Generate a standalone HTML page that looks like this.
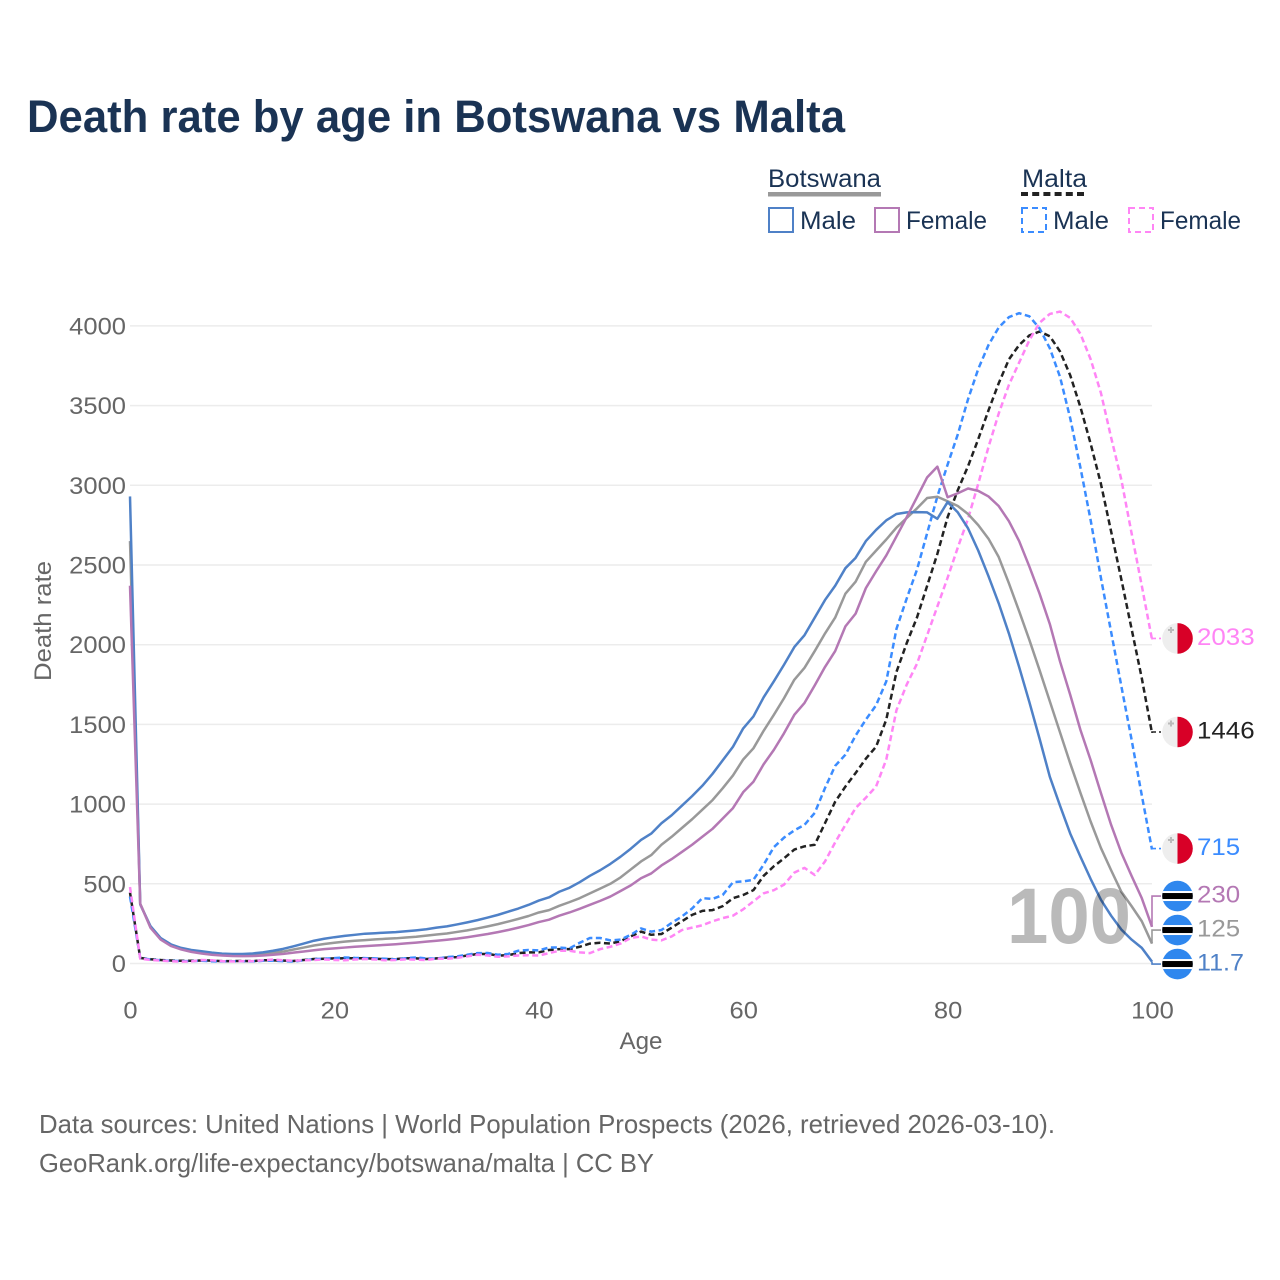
<!DOCTYPE html>
<html lang="en">
<head>
<meta charset="utf-8">
<title>Death rate by age in Botswana vs Malta</title>
<style>
html,body{margin:0;padding:0;background:#fff;}
svg{display:block;}
text{font-family:"Liberation Sans",sans-serif;}
</style>
</head>
<body>
<svg id="chart" xmlns="http://www.w3.org/2000/svg" width="1280" height="1280" viewBox="0 0 1280 1280">
  <defs><clipPath id="flag-clip"><circle cx="0" cy="0" r="15.3"></circle></clipPath></defs>
  <rect x="0" y="0" width="1280" height="1280" fill="#fff"></rect>
  <text x="27" y="132" font-size="45" font-weight="700" fill="#1a3354" textLength="818" lengthAdjust="spacingAndGlyphs">Death rate by age in Botswana vs Malta</text>

  <g>
    <text x="768" y="187" font-size="25" fill="#1a3354" textLength="113" lengthAdjust="spacingAndGlyphs">Botswana</text>
    <rect x="768" y="192" width="113" height="4.5" fill="#999"></rect>
    <text x="1022" y="187" font-size="25" fill="#1a3354" textLength="65" lengthAdjust="spacingAndGlyphs">Malta</text>
    <line x1="1021" y1="194" x2="1087" y2="194" stroke="#222" stroke-width="4" stroke-dasharray="7 4.2"></line>
    <rect x="769" y="208" width="24" height="24" fill="none" stroke="#4f81c7" stroke-width="2"></rect>
    <text x="800" y="229" font-size="25" fill="#1a3354" textLength="56" lengthAdjust="spacingAndGlyphs">Male</text>
    <rect x="875" y="208" width="24" height="24" fill="none" stroke="#b478b4" stroke-width="2"></rect>
    <text x="906" y="229" font-size="25" fill="#1a3354" textLength="81" lengthAdjust="spacingAndGlyphs">Female</text>
    <rect x="1022" y="208" width="24" height="24" fill="none" stroke="#3b8cff" stroke-width="2" stroke-dasharray="6 4"></rect>
    <text x="1053" y="229" font-size="25" fill="#1a3354" textLength="56" lengthAdjust="spacingAndGlyphs">Male</text>
    <rect x="1129" y="208" width="24" height="24" fill="none" stroke="#ff85f5" stroke-width="2" stroke-dasharray="6 4"></rect>
    <text x="1160" y="229" font-size="25" fill="#1a3354" textLength="81" lengthAdjust="spacingAndGlyphs">Female</text>
  </g>

  <g id="grid"></g>
  <g id="yticks"></g>
  <g id="xticks"></g>
  <text transform="translate(51,621) rotate(-90)" text-anchor="middle" font-size="24.5" fill="#666" textLength="120" lengthAdjust="spacingAndGlyphs">Death rate</text>
  <text x="641" y="1049" text-anchor="middle" font-size="24.5" fill="#666" textLength="43" lengthAdjust="spacingAndGlyphs">Age</text>

  <g id="series" fill="none" stroke-linejoin="round"></g>
  <text x="1007" y="943" font-size="79" font-weight="700" fill="rgba(0,0,0,0.27)" textLength="124" lengthAdjust="spacingAndGlyphs">100</text>
  <g id="endlabels"></g>

  <text x="39" y="1133" font-size="26" fill="#666" textLength="1016" lengthAdjust="spacingAndGlyphs">Data sources: United Nations | World Population Prospects (2026, retrieved 2026-03-10).</text>
  <text x="39" y="1172" font-size="26" fill="#666" textLength="615" lengthAdjust="spacingAndGlyphs">GeoRank.org/life-expectancy/botswana/malta | CC BY</text>
</svg>
<script>
const yTickValues = [0, 500, 1000, 1500, 2000, 2500, 3000, 3500, 4000];
const xTickValues = [0, 20, 40, 60, 80, 100];

const botswanaMale = [
  2930,370,235,160,120,98,85,77,68,62,
  60,60,63,70,80,92,108,125,143,155,
  165,173,180,187,190,194,197,202,208,215,
  225,233,245,258,272,288,305,325,345,368,
  395,415,450,475,510,550,585,625,670,720,
  775,815,880,930,990,1050,1115,1190,1275,1360,
  1475,1550,1670,1770,1875,1985,2060,2170,2280,2370,
  2480,2545,2650,2720,2780,2820,2830,2832,2830,2790,
  2895,2830,2730,2590,2430,2260,2070,1860,1640,1410,
  1172,990,815,670,530,400,300,213,150,98,
  11.7];
const botswanaTotal = [
  2650,375,230,155,115,92,80,70,62,57,
  54,54,55,60,67,75,88,100,113,122,
  130,137,143,147,151,155,158,163,168,175,
  182,188,198,208,220,233,247,263,280,298,
  320,335,362,385,410,440,470,500,540,590,
  640,680,745,795,850,905,965,1025,1100,1180,
  1280,1350,1460,1560,1665,1780,1855,1960,2070,2170,
  2320,2395,2520,2590,2660,2735,2795,2855,2920,2928,
  2900,2870,2820,2750,2665,2550,2385,2210,2030,1840,
  1645,1450,1255,1070,890,725,585,450,360,265,
  125];
const botswanaFemale = [
  2370,375,225,150,110,88,73,63,55,50,
  47,46,47,50,55,60,68,75,83,90,
  95,100,105,109,113,117,121,126,131,137,
  143,149,156,165,175,185,197,210,225,241,
  260,275,300,320,343,368,393,420,455,490,
  535,565,615,655,700,745,795,845,910,975,
  1075,1140,1250,1340,1445,1560,1635,1745,1860,1960,
  2115,2195,2355,2460,2560,2680,2800,2925,3050,3117,
  2925,2950,2980,2965,2930,2870,2775,2650,2490,2320,
  2130,1895,1685,1465,1275,1070,870,695,550,410,
  230];
const maltaMale = [
  420,35,25,20,17,15,15,17,14,13,
  14,14,13,17,18,15,12,20,28,30,
  34,38,35,34,32,30,26,33,38,32,
  30,40,45,55,65,66,55,60,80,85,
  82,100,100,95,130,160,160,145,150,180,
  220,200,210,255,295,345,410,405,430,510,
  515,525,620,730,790,835,870,945,1100,1240,
  1310,1430,1530,1620,1770,2100,2290,2470,2700,2930,
  3130,3320,3540,3730,3880,3990,4055,4080,4060,3985,
  3860,3680,3420,3110,2780,2420,2080,1740,1405,1055,
  715];
const maltaTotal = [
  445,35,27,22,19,17,17,19,18,15,
  15,16,15,20,20,18,16,22,28,30,
  32,33,33,33,30,27,28,33,32,28,
  32,37,40,50,60,60,50,52,65,70,
  70,85,90,90,105,125,130,125,140,170,
  200,180,185,225,265,305,330,335,360,410,
  430,460,550,610,660,715,735,745,880,1015,
  1110,1195,1285,1360,1530,1830,2010,2170,2370,2570,
  2800,2970,3120,3290,3470,3640,3790,3880,3940,3965,
  3935,3840,3690,3490,3260,3010,2710,2410,2100,1790,
  1446];
const maltaFemale = [
  480,30,22,18,14,12,13,22,20,15,
  13,15,15,20,25,20,18,20,22,25,
  22,20,25,28,25,20,22,26,24,22,
  30,30,35,45,55,50,42,45,50,52,
  50,65,80,80,70,65,90,105,125,160,
  170,150,145,170,210,225,240,265,285,300,
  340,390,440,460,495,570,600,555,640,760,
  870,975,1040,1110,1280,1590,1750,1880,2060,2240,
  2420,2610,2790,3010,3240,3450,3630,3770,3910,4020,
  4075,4090,4050,3950,3790,3580,3300,3035,2700,2370,
  2033];
const endLabelTexts = ["11.7", "125", "230", "715", "1446", "2033"];

const NS = "http://www.w3.org/2000/svg";
const xScale = function (age) { return 130 + age * 10.22; };
const yScale = function (v) { return 963.5 - v * 0.1594; };

function make(tag, parent) {
  const el = document.createElementNS(NS, tag);
  parent.appendChild(el);
  return el;
}
function setAll(el, attrs) {
  for (const k in attrs) el.setAttribute(k, attrs[k]);
}

const gridG = document.getElementById("grid");
const yTickG = document.getElementById("yticks");
yTickValues.forEach(function (v) {
  const line = make("line", gridG);
  
  
  setAll(line, {x1: 130, x2: 1152, y1: yScale(v), y2: yScale(v), stroke: "#ececec", "stroke-width": 1.5});
  const t = make("text", yTickG);
  
  
  const s = String(v);
  setAll(t, {x: 126, y: yScale(v) + 8.5, "text-anchor": "end", "font-size": 24.5, fill: "#666", textLength: s.length * 14.2, lengthAdjust: "spacingAndGlyphs"});
  t.textContent = s;
});

const xTickG = document.getElementById("xticks");
xTickValues.forEach(function (a) {
  const t = make("text", xTickG);
  
  
  const s = String(a);
  setAll(t, {x: xScale(a) + 0.5, y: 1018.5, "text-anchor": "middle", "font-size": 24.5, fill: "#666", textLength: s.length * 14.2, lengthAdjust: "spacingAndGlyphs"});
  t.textContent = s;
});

function linePath(values) {
  return values.map(function (v, i) {
    return (i ? "L" : "M") + xScale(i).toFixed(2) + " " + yScale(v).toFixed(2);
  }).join("");
}

const seriesG = document.getElementById("series");
function drawSeries(values, color, dash) {
  const p = make("path", seriesG);
  setAll(p, {d: linePath(values), stroke: color, "stroke-width": 2.5});
  if (dash) p.setAttribute("stroke-dasharray", "6 3.5");
  return p;
}
const pMaltaTotal = drawSeries(maltaTotal, "#222222", true);


const pMaltaMale = drawSeries(maltaMale, "#3b8cff", true);


const pMaltaFemale = drawSeries(maltaFemale, "#ff85f5", true);


const pBotsTotal = drawSeries(botswanaTotal, "#999999", false);


const pBotsMale = drawSeries(botswanaMale, "#4f81c7", false);


const pBotsFemale = drawSeries(botswanaFemale, "#b478b4", false);



/* end labels: sorted bottom to top, pushed apart so flags never overlap */
const endSeries = [
  {values: botswanaMale, color: "#4f81c7", dash: false, flag: "bw"},
  {values: botswanaTotal, color: "#999999", dash: false, flag: "bw"},
  {values: botswanaFemale, color: "#b478b4", dash: false, flag: "bw"},
  {values: maltaMale, color: "#3b8cff", dash: true, flag: "mt"},
  {values: maltaTotal, color: "#222222", dash: true, flag: "mt"},
  {values: maltaFemale, color: "#ff85f5", dash: true, flag: "mt"}
];
const endG = document.getElementById("endlabels");
let prevY = Infinity;
endSeries.forEach(function (s, i) {
  const yEnd = yScale(s.values[s.values.length - 1]);
  const yLab = i === 0 ? yEnd + 2.4 : Math.min(yEnd - 1, prevY - 34);
  prevY = yLab;

  const c = make("path", endG);
  
  
  setAll(c, {d: "M" + xScale(100) + " " + yEnd + "V" + yLab + "H1161", fill: "none", stroke: s.color, "stroke-width": 1.6});
  if (s.dash) c.setAttribute("stroke-dasharray", "5 3");

  const g = make("g", endG);
  
  
  g.setAttribute("transform", "translate(1177.5," + yLab + ")");
  const inner = make("g", g);
  inner.setAttribute("clip-path", "url(#flag-clip)");
  if (s.flag === "bw") {
    setAll(make("rect", inner), {x: -16, y: -16, width: 32, height: 32, fill: "#2f87ee"});
    setAll(make("rect", inner), {x: -16, y: -5, width: 32, height: 10, fill: "#fff"});
    setAll(make("rect", inner), {x: -16, y: -3, width: 32, height: 6, fill: "#000"});
  } else {
    setAll(make("rect", inner), {x: -16, y: -16, width: 16, height: 32, fill: "#eeeeee"});
    setAll(make("rect", inner), {x: 0, y: -16, width: 16, height: 32, fill: "#d80027"});
    setAll(make("path", inner), {d: "M-7.5 -11.5h2v2h2v2h-2v2h-2v-2h-2v-2h2z", fill: "#bbbbbb"});
  }

  const t = make("text", endG);
  
  
  const label = endLabelTexts[i];
  const w = label.indexOf(".") >= 0 ? 47 : label.length * 14.4;
  setAll(t, {x: 1197, y: yLab + 6.5, "font-size": 24.5, fill: s.color, textLength: w, lengthAdjust: "spacingAndGlyphs"});
  t.textContent = label;
});
</script>
</body>
</html>
